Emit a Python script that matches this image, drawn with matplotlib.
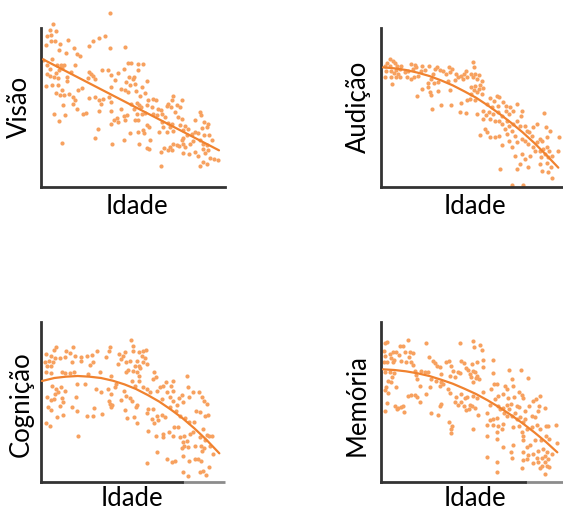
import matplotlib

matplotlib.use("Agg")
import matplotlib.pyplot as plt

W, H = 563, 510
DOT = "#f7a15f"
LINE = "#f0822f"
AXIS = "#333333"
AXIS_FADED = "#8c8c8c"

# (idade, escore); units are arbitrary (no ticks shown)
visao_pts = [
    (208, 522), (36, 488), (26, 470), (46, 468), (19, 453), (31, 455), (29, 437), (43, 437),
    (58, 430), (81, 440), (16, 425), (53, 410), (98, 417), (76, 403), (109, 400), (118, 393),
    (156, 437), (174, 447), (192, 452), (144, 423), (207, 416), (253, 420), (33, 385), (6, 380),
    (19, 365), (27, 355), (49, 365), (59, 365), (69, 365), (64, 357), (46, 343), (53, 352),
    (89, 345), (101, 365), (17, 340), (27, 332), (39, 330), (51, 328), (79, 330), (77, 318),
    (16, 302), (34, 305), (51, 307), (64, 292), (46, 282), (58, 275), (69, 275), (85, 280),
    (96, 270), (101, 260), (97, 250), (111, 290), (124, 297), (143, 345), (151, 340), (156, 332),
    (141, 327), (163, 325), (184, 350), (200, 350), (209, 335), (221, 322), (231, 342), (249, 355),
    (261, 373), (270, 373), (263, 330), (256, 315), (266, 307), (211, 300), (241, 295), (253, 290),
    (261, 285), (144, 268), (163, 270), (174, 262), (181, 250), (187, 265), (204, 270), (209, 255),
    (66, 247), (109, 235), (126, 220), (136, 223), (39, 220), (73, 217), (53, 197), (174, 227),
    (209, 228), (239, 235), (219, 202), (231, 195), (211, 190), (229, 207), (248, 212), (257, 215),
    (253, 202), (171, 173), (163, 147), (249, 140), (213, 130), (266, 163), (64, 133),
    (292, 368), (305, 368), (279, 330), (275, 325), (291, 350), (319, 318), (281, 310), (302, 300),
    (284, 288), (312, 282), (297, 272), (337, 264), (345, 260), (322, 262), (269, 250), (287, 252),
    (294, 245), (279, 235), (299, 240), (317, 245), (287, 220), (302, 220), (312, 222), (282, 200),
    (292, 200), (319, 185), (325, 180), (305, 172), (292, 165), (309, 162), (334, 240), (352, 235),
    (359, 230), (337, 220), (347, 215), (362, 220), (397, 272), (392, 260), (382, 250), (377, 242),
    (389, 240), (409, 245), (424, 262), (417, 240), (402, 225), (412, 210), (422, 205), (372, 210),
    (362, 195), (367, 180), (382, 193), (392, 190), (355, 165), (377, 165), (397, 168), (387, 180),
    (417, 185), (432, 183), (442, 175), (427, 170), (452, 160), (462, 165), (437, 155), (427, 148),
    (477, 225), (480, 215), (462, 200), (489, 195), (502, 190), (497, 180), (482, 178), (472, 162),
    (489, 155), (504, 157), (512, 142), (327, 142), (295, 130), (317, 118), (325, 115), (359, 105),
    (370, 117), (387, 120), (397, 130), (407, 125), (392, 112), (380, 110), (422, 140), (427, 130),
    (415, 122), (432, 120), (447, 128), (457, 138), (477, 140), (487, 130), (497, 125), (485, 115),
    (502, 112), (492, 102), (427, 102), (445, 100), (462, 105), (472, 92), (507, 88), (519, 85),
    (532, 82), (485, 75), (499, 68), (477, 62), (359, 62),
]
visao_fit = [(6, 383), (534, 110)]

audicao_pts = [
    (28, 384), (36, 377), (19, 371), (11, 364), (26, 364), (41, 371), (49, 364), (59, 364),
    (16, 349), (31, 349), (46, 351), (56, 354), (39, 341), (51, 339), (13, 329), (29, 331),
    (46, 329), (56, 329), (33, 309), (71, 344), (81, 349), (91, 369), (101, 367), (96, 354),
    (106, 359), (123, 362), (143, 364), (79, 331), (91, 324), (99, 331), (111, 334), (121, 349),
    (131, 351), (161, 354), (169, 359), (176, 351), (186, 347), (196, 339), (204, 359), (213, 354),
    (208, 344), (156, 339), (151, 324), (141, 311), (159, 311), (171, 314), (141, 299), (123, 294),
    (108, 274), (146, 284), (151, 276), (171, 287), (206, 291), (231, 329), (226, 339), (241, 334),
    (249, 339), (256, 349), (259, 329), (246, 324), (201, 319), (221, 321), (154, 234), (181, 247),
    (209, 247), (239, 251), (259, 261), (266, 264), (238, 224), (254, 221),
    (277, 374), (280, 361), (269, 339), (282, 339), (295, 337), (275, 329), (289, 324), (302, 319),
    (297, 307), (282, 304), (269, 299), (279, 291), (295, 294), (305, 297), (270, 279), (287, 284),
    (302, 279), (282, 261), (327, 267), (347, 274), (355, 271), (339, 257), (319, 249), (332, 241),
    (352, 244), (367, 254), (375, 244), (387, 239), (289, 219), (305, 227), (315, 217), (325, 224),
    (337, 219), (352, 224), (362, 214), (307, 204), (327, 204), (342, 199), (355, 197), (362, 189),
    (375, 227), (385, 219), (397, 229), (409, 249), (422, 227), (419, 214), (377, 199), (385, 184),
    (397, 189), (407, 199), (417, 184), (432, 184), (312, 174), (319, 164), (297, 156), (327, 149),
    (342, 149), (355, 154), (372, 174), (377, 159), (392, 169), (402, 154), (437, 169), (445, 164),
    (452, 154), (457, 179), (467, 189), (477, 144), (489, 221), (495, 179), (507, 169), (499, 149),
    (362, 127), (385, 139), (392, 119), (407, 134), (422, 144), (432, 139), (442, 129), (457, 121),
    (467, 134), (482, 139), (462, 109), (477, 109), (487, 114), (497, 119), (505, 109), (492, 99),
    (512, 94), (479, 89), (502, 89), (535, 151), (532, 107), (402, 94), (422, 99), (432, 84),
    (447, 94), (417, 69), (442, 61), (477, 69), (499, 71), (509, 59), (357, 54), (409, 54),
    (482, 49), (502, 46), (512, 27), (392, 7), (427, 5),
]
audicao_fit = [(6, 359), (40, 356), (75, 351), (110, 343), (145, 333), (180, 320), (215, 305),
               (250, 287), (285, 268), (320, 245), (355, 220), (390, 193), (425, 164),
               (460, 132), (495, 97), (532, 58)]

cognicao_pts = [
    (46, 404), (39, 396), (16, 384), (31, 379), (43, 371), (56, 371), (71, 374), (13, 361),
    (23, 364), (36, 359), (19, 349), (31, 349), (76, 392), (86, 386), (96, 404), (101, 379),
    (93, 361), (121, 374), (119, 364), (139, 377), (153, 381), (169, 394), (156, 359), (146, 352),
    (203, 394), (196, 374), (206, 404), (16, 329), (29, 326), (63, 331), (73, 326), (86, 326),
    (99, 329), (141, 324), (176, 331), (211, 319), (231, 354), (241, 369), (234, 384), (253, 389),
    (246, 377), (256, 359), (266, 364), (261, 337), (256, 329), (33, 289), (46, 279), (59, 284),
    (73, 274), (51, 269), (41, 264), (19, 254), (29, 247), (39, 249), (63, 252), (66, 239),
    (56, 227), (109, 294), (131, 294), (106, 254), (166, 279), (181, 269), (201, 279), (211, 264),
    (221, 284), (226, 294), (249, 274), (256, 259), (266, 251), (239, 246), (203, 244), (206, 234),
    (209, 224), (213, 231), (21, 224), (31, 217), (93, 226), (109, 214), (159, 221), (48, 196),
    (66, 202), (139, 197), (156, 199), (184, 204), (16, 177), (28, 169), (111, 139), (251, 216),
    (259, 191),
    (269, 427), (277, 409), (277, 394), (295, 391), (307, 392), (315, 397), (302, 379), (312, 371),
    (305, 361), (317, 354), (295, 349), (289, 364), (282, 349), (297, 341), (289, 329), (277, 334),
    (295, 319), (272, 304), (295, 304), (282, 289), (307, 284), (317, 279), (327, 269), (339, 331),
    (345, 314), (337, 309), (347, 274), (357, 284), (367, 289), (377, 271), (375, 301), (395, 304),
    (389, 289), (397, 274), (362, 249), (387, 254), (397, 244), (415, 251), (422, 261), (407, 231),
    (427, 241), (439, 317), (442, 284), (455, 271), (445, 254), (475, 271), (482, 254), (499, 234),
    (489, 244), (465, 214), (477, 211), (492, 199), (502, 201), (272, 244), (287, 231), (285, 224),
    (279, 194), (287, 177), (322, 219), (319, 206), (337, 219), (347, 199), (332, 189), (339, 177),
    (352, 187), (362, 201), (372, 194), (387, 224), (405, 214), (417, 199), (432, 191), (445, 179),
    (459, 179), (322, 154), (345, 137), (365, 134), (367, 144), (385, 149), (395, 139), (399, 164),
    (412, 164), (417, 134), (429, 139), (425, 119), (437, 124), (447, 144), (455, 151), (487, 159),
    (497, 141), (505, 139), (512, 137), (477, 134), (492, 127), (479, 109), (422, 101), (429, 109),
    (442, 106), (462, 109), (482, 94), (489, 101), (515, 84), (507, 109), (347, 89), (379, 69),
    (392, 61), (402, 64), (427, 79), (445, 64), (462, 69), (472, 69), (479, 64), (319, 57),
    (427, 29), (442, 19), (477, 29), (487, 34), (495, 21), (505, 44),
]
cognicao_fit = [(3, 303), (40, 312), (75, 316), (110, 318), (145, 316), (180, 312), (215, 304),
                (250, 293), (285, 279), (320, 261), (355, 241), (390, 217), (425, 191),
                (460, 161), (495, 128), (535, 86)]

memoria_pts = [
    (11, 417), (19, 421), (9, 394), (13, 379), (26, 384), (36, 389), (46, 391), (53, 381),
    (29, 371), (39, 367), (19, 359), (36, 359), (9, 361), (56, 409), (66, 409), (81, 426),
    (73, 391), (86, 389), (96, 387), (83, 374), (89, 361), (76, 361), (96, 351), (59, 364),
    (11, 331), (26, 329), (39, 327), (33, 314), (21, 304), (31, 299), (16, 284), (11, 277),
    (46, 284), (21, 267), (101, 334), (106, 321), (121, 334), (131, 331), (141, 331), (109, 309),
    (136, 416), (143, 374), (156, 364), (163, 357), (169, 349), (176, 344), (151, 309), (166, 304),
    (181, 299), (179, 324), (196, 361), (203, 364), (209, 349), (216, 334), (231, 329), (236, 326),
    (223, 314), (206, 319), (236, 417), (241, 364), (249, 357), (256, 341), (261, 337), (266, 324),
    (116, 289), (146, 284), (176, 289), (186, 294), (201, 279), (206, 267), (226, 254), (239, 264),
    (81, 259), (91, 261), (103, 261), (109, 254), (136, 264), (116, 241), (221, 239), (231, 232),
    (241, 239), (249, 227), (253, 251), (259, 254), (266, 231), (263, 219), (256, 217), (41, 227),
    (51, 221), (59, 224), (66, 229), (69, 211), (49, 219), (11, 214), (19, 237), (181, 234),
    (176, 227), (151, 207), (171, 201), (203, 181), (213, 169), (211, 159), (209, 147),
    (275, 424), (279, 404), (297, 411), (302, 397), (272, 354), (289, 359), (305, 367), (307, 344),
    (335, 367), (337, 327), (339, 294), (349, 294), (275, 334), (282, 329), (289, 319), (269, 314),
    (285, 311), (295, 309), (277, 299), (307, 271), (385, 337), (419, 337), (392, 309), (442, 311),
    (372, 287), (377, 279), (395, 289), (415, 271), (422, 261), (427, 251), (399, 256), (382, 251),
    (367, 264), (352, 259), (329, 279), (342, 249), (289, 251), (277, 257), (272, 227), (282, 221),
    (292, 201), (277, 159), (327, 231), (352, 227), (357, 219), (367, 221), (377, 231), (385, 219),
    (389, 234), (369, 207), (377, 197), (392, 197), (402, 207), (317, 207), (327, 187), (337, 189),
    (347, 191), (319, 171), (335, 171), (352, 169), (349, 151), (362, 159), (367, 174), (407, 229),
    (415, 224), (432, 214), (445, 227), (455, 244), (465, 249), (475, 229), (472, 214), (492, 221),
    (477, 257), (452, 199), (462, 194), (417, 194), (427, 179), (432, 189), (407, 189), (397, 164),
    (415, 169), (422, 149), (437, 159), (452, 164), (467, 171), (477, 159), (495, 167), (502, 167),
    (525, 171), (317, 137), (347, 129), (367, 104), (397, 111), (425, 127), (427, 139), (439, 106),
    (447, 111), (462, 127), (479, 127), (495, 139), (505, 129), (529, 117), (389, 89), (392, 71),
    (427, 89), (442, 81), (457, 84), (472, 94), (485, 99), (499, 89), (492, 79), (482, 71),
    (502, 69), (512, 84), (319, 74), (347, 59), (427, 67), (439, 69), (457, 57), (467, 71),
    (472, 61), (492, 61), (497, 47), (482, 49), (505, 44), (422, 41), (477, 41), (492, 24),
    (347, 31),
]
memoria_fit = [(6, 338), (40, 336), (75, 332), (110, 326), (145, 318), (180, 307), (215, 295),
               (250, 280), (285, 264), (320, 245), (355, 224), (390, 201), (425, 176),
               (460, 149), (495, 120), (529, 89)]


def axes_px(fig, left, top, right, bottom):
    return fig.add_axes([left / W, 1 - bottom / H, (right - left) / W, (bottom - top) / H])


def panel(ax, pts, fit, xmax, ymax, fade_from=None):
    x, y = zip(*pts)
    ax.scatter(x, y, s=9, color=DOT, linewidths=0, clip_on=False, zorder=2)
    fx, fy = zip(*fit)
    ax.plot(fx, fy, color=LINE, lw=1.6, zorder=3, solid_capstyle="round")
    ax.set_xlim(0, xmax)
    ax.set_ylim(0, ymax)
    ax.set_xticks([])
    ax.set_yticks([])
    for s in ("top", "right"):
        ax.spines[s].set_visible(False)
    for s in ("left", "bottom"):
        ax.spines[s].set_color(AXIS)
        ax.spines[s].set_linewidth(2)
    if fade_from is not None:
        # the right end of the x axis is lighter in the original
        ax.spines["bottom"].set_bounds(0, fade_from)
        ax.plot([fade_from, xmax], [0, 0], color=AXIS_FADED, lw=2,
                solid_capstyle="butt", clip_on=False, zorder=1)
    ax.patch.set_alpha(0)


plt.rcParams["font.family"] = ["Lato", "DejaVu Sans"]
fig = plt.figure(figsize=(W / 100, H / 100), dpi=100)

panels = [
    (visao_pts, visao_fit, "Visão", (41, 29, 225, 188), (137, 207), (19, 107), None),
    (audicao_pts, audicao_fit, "Audição", (381, 29, 563, 188), (475, 207), (358, 107), None),
    (cognicao_pts, cognicao_fit, "Cognição", (41, 323, 225, 483), (132, 499), (21, 404), 423),
    (memoria_pts, memoria_fit, "Memória", (381, 323, 563, 483), (475, 499), (357, 405), 432),
]
for pts, fit, ylab, (l, t, r, b), xl, yl, fade in panels:
    ax = axes_px(fig, l, t, r, b)
    panel(ax, pts, fit, (r - l) * 3, (b - t) * 3, fade)
    fig.text(xl[0] / W, 1 - xl[1] / H, "Idade", fontsize=18.5, ha="center", va="center")
    fig.text(yl[0] / W, 1 - yl[1] / H, ylab, fontsize=18.5, rotation=90,
             ha="center", va="center")

fig.savefig("out.png", dpi=100)
